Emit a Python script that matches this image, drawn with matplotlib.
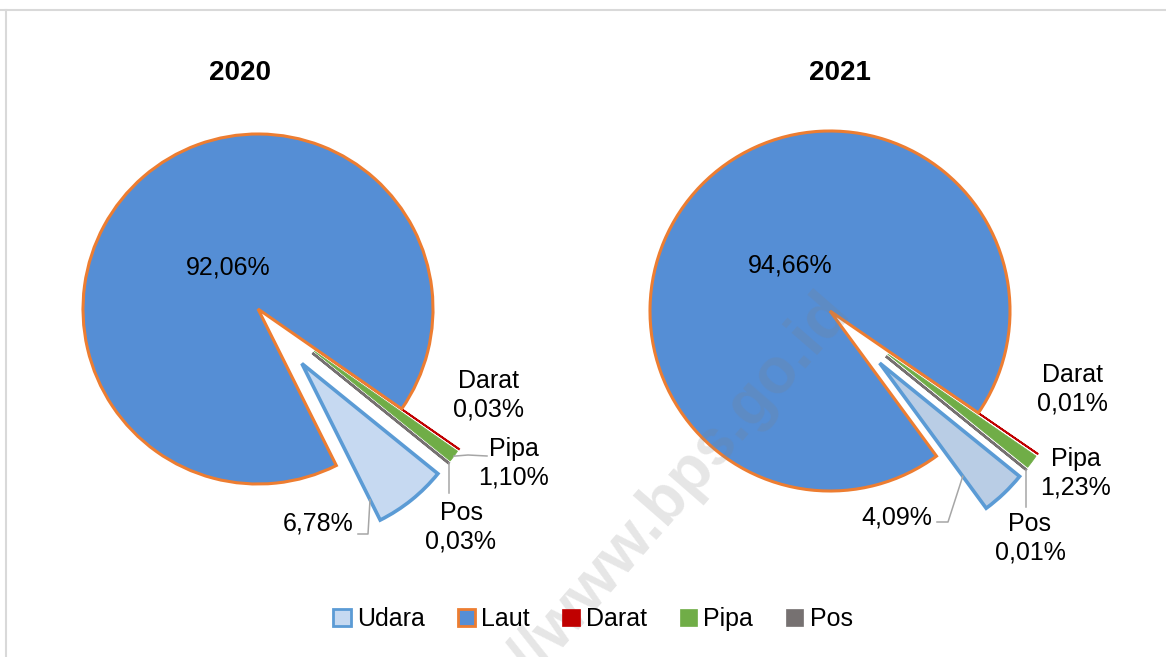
import numpy as np
import matplotlib
matplotlib.use('Agg')
import matplotlib.pyplot as plt
from matplotlib.patches import Patch
from matplotlib.lines import Line2D

plt.rcParams['font.family'] = ['Liberation Sans Narrow', 'Liberation Sans', 'DejaVu Sans']

# data
moda = ['Udara', 'Laut', 'Darat', 'Pipa', 'Pos']
tahun = ['2020', '2021']
persen_2020 = [6.78, 92.06, 0.03, 1.10, 0.03]
persen_2021 = [4.09, 94.66, 0.01, 1.23, 0.01]

warna_2020 = ['#C6D9F1', '#558ED5', '#C00000', '#70AD47', '#767171']
warna_2021 = ['#B9CDE5', '#558ED5', '#C00000', '#70AD47', '#767171']
tepi = ['#5B9BD5', '#ED7D31', '#C00000', '#70AD47', '#767171']
tebal = [2.6, 2.2, 1.3, 0.6, 1.8]

W, H = 1166, 657


def fmt(v):
    return ('%.2f%%' % v).replace('.', ',')


fig = plt.figure(figsize=(W / 100, H / 100), dpi=100)
ax = fig.add_axes([0, 0, 1, 1])

# layout (pixel coords, y from top)
cfg = [
    dict(data=persen_2020, warna=warna_2020, c=(258, 309), r=175, judul=(240, 73),
         lbl_laut=(228, 268), lbl_udara=(354, 524), lbl_darat=(488, 395),
         lbl_pipa=(514, 463), lbl_pos=(461, 527),
         udara_frac=0.87, udara_lead=[(358, 534), (368, 534)],
         pipa_lead=[(487, 456), (468, 455)], pos_lead=(493,)),
    dict(data=persen_2021, warna=warna_2021, c=(830, 311), r=180, judul=(840, 73),
         lbl_laut=(790, 266), lbl_udara=(932, 517), lbl_darat=(1072, 389),
         lbl_pipa=(1076, 473), lbl_pos=(1030, 538),
         udara_frac=0.78, udara_lead=[(937, 522), (948, 522)],
         pipa_lead=None, pos_lead=(507,)),
]

fs = 18
lead_col = '#A6A6A6'

for th, k in zip(tahun, cfg):
    cx, cy = k['c'][0], H - k['c'][1]
    r = k['r']
    wedges, _ = ax.pie(k['data'], colors=k['warna'], startangle=-39, counterclock=False,
                       explode=[0.4 * r, 0, 0.4 * r, 0.4 * r, 0.4 * r],
                       radius=r, center=(cx, cy),
                       wedgeprops=dict(joinstyle='miter'))
    for w, ec, lw in zip(wedges, tepi, tebal):
        w.set_edgecolor(ec)
        w.set_linewidth(lw)
    wedges[1].set_zorder(3)

    ax.text(k['judul'][0], H - k['judul'][1], th, ha='center', va='center',
            fontsize=20, fontweight='bold')

    ax.text(k['lbl_laut'][0], H - k['lbl_laut'][1], fmt(k['data'][1]),
            ha='center', va='center', fontsize=fs)
    ax.text(k['lbl_udara'][0], H - k['lbl_udara'][1], fmt(k['data'][0]),
            ha='right', va='center', fontsize=fs)
    for i, key in [(2, 'lbl_darat'), (3, 'lbl_pipa'), (4, 'lbl_pos')]:
        ax.text(k[key][0], H - k[key][1], moda[i] + '\n' + fmt(k['data'][i]),
                ha='center', va='center', fontsize=fs, linespacing=1.25)

    # leader lines
    wu = wedges[0]
    a = np.deg2rad(min(wu.theta1, wu.theta2))
    ux = wu.center[0] + k['udara_frac'] * r * np.cos(a)
    uy = wu.center[1] + k['udara_frac'] * r * np.sin(a)
    xs = [p[0] for p in k['udara_lead']] + [ux]
    ys = [H - p[1] for p in k['udara_lead']] + [uy]
    ax.plot(xs, ys, color=lead_col, lw=1.1, zorder=4)

    def outer(w):
        a = np.deg2rad(0.5 * (w.theta1 + w.theta2))
        return w.center[0] + r * np.cos(a), w.center[1] + r * np.sin(a)

    if k['pipa_lead'] is not None:
        px, py = outer(wedges[3])
        xs = [p[0] for p in k['pipa_lead']] + [px]
        ys = [H - p[1] for p in k['pipa_lead']] + [py]
        ax.plot(xs, ys, color=lead_col, lw=1.1, zorder=4)

    qx, qy = outer(wedges[4])
    ax.plot([qx, qx], [qy, H - k['pos_lead'][0]], color=lead_col, lw=1.1, zorder=4)

ax.set_xlim(0, W)
ax.set_ylim(0, H)
ax.set_aspect('auto')
ax.axis('off')

# watermark
ax.text(838, H - 300, 'http://www.bps.go.id', rotation=49, rotation_mode='anchor',
        ha='right', va='center', fontsize=46, fontweight='bold',
        family=['Liberation Sans', 'DejaVu Sans'], color='#808080', alpha=0.2, zorder=5)

# legend
handles = [Patch(facecolor=warna_2020[i], edgecolor=tepi[i], linewidth=2.0 if i < 2 else 0.5)
           for i in range(len(moda))]
fig.legend(handles, moda, loc='center', bbox_to_anchor=(593 / W, 1 - 619 / H), ncol=5,
           frameon=False, fontsize=fs, handlelength=0.7, handleheight=0.7,
           handletextpad=0.25, columnspacing=1.3)

# chart frame (top and left edges visible)
fig.add_artist(Line2D([0, 1], [1 - 9.5 / H, 1 - 9.5 / H], color='#D9D9D9', lw=1.5))
fig.add_artist(Line2D([5.5 / W, 5.5 / W], [0, 1 - 9.5 / H], color='#D9D9D9', lw=1.5))

fig.savefig('out.png', dpi=100)
